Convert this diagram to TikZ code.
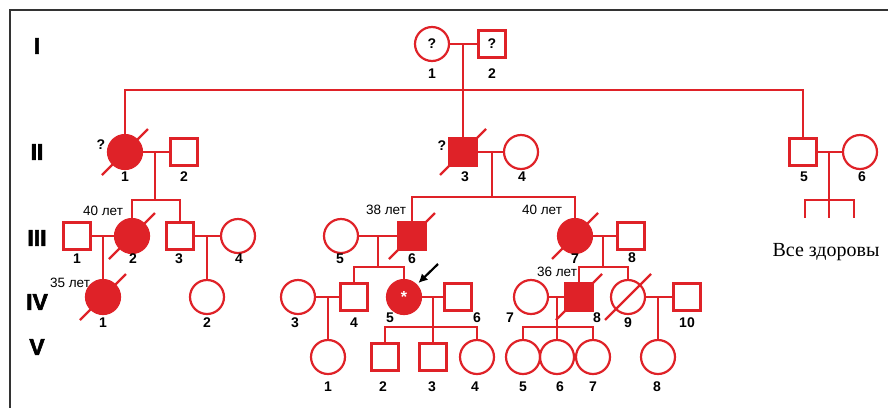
\documentclass[tikz,border=0pt]{standalone}
\usepackage{fontspec}
\setmainfont{Liberation Sans}
\newfontfamily\notefont{Liberation Serif}
\newfontfamily\heavyfont{Liberation Sans}[BoldFeatures={FakeBold=2.5}]
\usetikzlibrary{arrows.meta}
\definecolor{pedred}{HTML}{DF2228}
\definecolor{framegray}{HTML}{333333}

\begin{document}
\begin{tikzpicture}[x=1pt,y=-1pt,
fem/.style={circle,draw=pedred,line width=2.2pt,minimum size=34pt,inner sep=0pt,
font=\bfseries\fontsize{14}{14}\selectfont},
mal/.style={rectangle,draw=pedred,line width=2.2pt,minimum size=27pt,inner sep=0pt,
font=\bfseries\fontsize{14}{14}\selectfont},
aff/.style={fill=pedred},
ln/.style={draw=pedred,line width=2.2pt},
dead/.style={draw=pedred,line width=2.2pt},
num/.style={font=\bfseries\fontsize{14}{14}\selectfont,inner sep=0pt},
age/.style={font=\fontsize{13.5}{13.5}\selectfont,inner sep=0pt},
gen/.style={font=\heavyfont\bfseries\fontsize{23}{23}\selectfont,inner sep=0pt},
pointer/.style={-{Latex[length=9pt,width=9pt]},line width=2.2pt,shorten >=2pt}
]
\useasboundingbox (0,0) rectangle (888,408);
\draw[framegray,line width=1.2pt] (888,10) -- (10,10) -- (10,408);

\node[gen] (g1) at (37,46) {I};
\node[gen] (g2) at (37,152) {II};
\node[gen] (g3) at (37,238) {III};
\node[gen] (g4) at (37,302) {IV};
\node[gen] (g5) at (37,347) {V};

\node[fem] (i1) at (432,44) {?};
\node[mal] (i2) at (492,44) {?};
\coordinate (m1) at (463,44);
\coordinate (sib1) at (463,90);
\node[num] (n11) at (432,74) {1};
\node[num] (n12) at (492,74) {2};

\node[fem,aff] (ii1) at (125,152) {};
\node[mal] (ii2) at (184,152) {};
\node[mal,aff] (ii3) at (463,152) {};
\node[fem] (ii4) at (521,152) {};
\node[mal] (ii5) at (803,152) {};
\node[fem] (ii6) at (860,152) {};
\node[num] (q21) at (101,145) {?};
\node[num] (q23) at (442,146) {?};
\coordinate (m21) at (155,152);
\coordinate (sib21) at (155,200);
\coordinate (m22) at (492,152);
\coordinate (sib22) at (492,197);
\coordinate (m23) at (829,152);
\coordinate (sib23) at (829,200);
\coordinate (k1) at (805,218);
\coordinate (k2) at (829,218);
\coordinate (k3) at (854,218);
\node[num] (n21) at (125,177) {1};
\node[num] (n22) at (184,177) {2};
\node[num] (n23) at (465,177) {3};
\node[num] (n24) at (522,177) {4};
\node[num] (n25) at (804,177) {5};
\node[num] (n26) at (862,177) {6};
\node[font=\notefont\fontsize{20}{20}\selectfont,inner sep=0pt] (allwell) at (826,252) {Все здоровы};

\node[mal] (iii1) at (77,236) {};
\node[fem,aff] (iii2) at (132,236) {};
\node[mal] (iii3) at (180,236) {};
\node[fem] (iii4) at (238,236) {};
\node[fem] (iii5) at (341,236) {};
\node[mal,aff] (iii6) at (412,236) {};
\node[fem,aff] (iii7) at (575,236) {};
\node[mal] (iii8) at (631,236) {};
\coordinate (m31) at (103,236);
\coordinate (m32) at (207,236);
\coordinate (m33) at (378,236);
\coordinate (sib33) at (378,267);
\coordinate (m34) at (603,236);
\coordinate (sib34) at (603,267);
\node[age] (a32) at (103,211) {40 лет};
\node[age] (a36) at (386,210) {38 лет};
\node[age] (a37) at (542,210) {40 лет};
\node[num] (n31) at (77,259) {1};
\node[num] (n32) at (133,259) {2};
\node[num] (n33) at (179,259) {3};
\node[num] (n34) at (239,259) {4};
\node[num] (n35) at (340,259) {5};
\node[num] (n36) at (412,259) {6};
\node[num] (n37) at (575,259) {7};
\node[num] (n38) at (632,258) {8};

\node[fem,aff] (iv1) at (103,297) {};
\node[fem] (iv2) at (207,297) {};
\node[fem] (iv3) at (298,297) {};
\node[mal] (iv4) at (354,297) {};
\node[fem,aff,text=white,font=\bfseries\fontsize{16}{16}\selectfont] (iv5) at (404,297) {\raisebox{-3.5pt}{*}};
\node[mal] (iv6) at (458,297) {};
\node[fem] (iv7) at (531,297) {};
\node[mal,aff] (iv8) at (579,297) {};
\node[fem] (iv9) at (628,297) {};
\node[mal] (iv10) at (687,297) {};
\coordinate (m41) at (328,297);
\coordinate (m42) at (433,297);
\coordinate (sib42) at (433,327);
\coordinate (m43) at (557,297);
\coordinate (sib43) at (557,327);
\coordinate (m44) at (658,297);
\coordinate (ar) at (438,264);
\node[age] (a41) at (70,283) {35 лет};
\node[age] (a48) at (557,272) {36 лет};
\node[num] (n41) at (103,323) {1};
\node[num] (n42) at (207,323) {2};
\node[num] (n43) at (295,323) {3};
\node[num] (n44) at (354,323) {4};
\node[num] (n45) at (390,318) {5};
\node[num] (n46) at (477,318) {6};
\node[num] (n47) at (510,318) {7};
\node[num] (n48) at (597,318) {8};
\node[num] (n49) at (628,323) {9};
\node[num] (n410) at (687,323) {10};

\node[fem] (v1) at (328,357) {};
\node[mal] (v2) at (385,357) {};
\node[mal] (v3) at (433,357) {};
\node[fem] (v4) at (477,357) {};
\node[fem] (v5) at (523,357) {};
\node[fem] (v6) at (557,357) {};
\node[fem] (v7) at (593,357) {};
\node[fem] (v8) at (658,357) {};
\node[num] (n51) at (328,387) {1};
\node[num] (n52) at (383,387) {2};
\node[num] (n53) at (432,387) {3};
\node[num] (n54) at (475,387) {4};
\node[num] (n55) at (523,387) {5};
\node[num] (n56) at (560,387) {6};
\node[num] (n57) at (593,387) {7};
\node[num] (n58) at (657,387) {8};

\draw[ln] (i1) -- (i2);
\draw[ln] (m1) -- (ii3);
\draw[ln] (ii1.north) -- (ii1.north |- sib1) -- (ii5.north |- sib1) -- (ii5.north);
\draw[ln] (ii1) -- (ii2);
\draw[ln] (ii3) -- (ii4);
\draw[ln] (ii5) -- (ii6);
\draw[ln] (m21) -- (sib21);
\draw[ln] (iii2.north) -- (iii2.north |- sib21) -- (iii3.north |- sib21) -- (iii3.north);
\draw[ln] (m22) -- (sib22);
\draw[ln] (iii6.north) -- (iii6.north |- sib22) -- (iii7.north |- sib22) -- (iii7.north);
\draw[ln] (m23) -- (k2);
\draw[ln] (k1) -- (k1 |- sib23) -- (k3 |- sib23) -- (k3);

\draw[ln] (iii1) -- (iii2);
\draw[ln] (iii3) -- (iii4);
\draw[ln] (iii5) -- (iii6);
\draw[ln] (iii7) -- (iii8);
\draw[ln] (m31) -- (iv1);
\draw[ln] (m32) -- (iv2);
\draw[ln] (m33) -- (sib33);
\draw[ln] (iv4.north) -- (iv4.north |- sib33) -- (iv5.north |- sib33) -- (iv5.north);
\draw[ln] (m34) -- (sib34);
\draw[ln] (iv8.north) -- (iv8.north |- sib34) -- (iv9.north |- sib34) -- (iv9.north);

\draw[ln] (iv3) -- (iv4);
\draw[ln] (iv5) -- (iv6);
\draw[ln] (iv7) -- (iv8);
\draw[ln] (iv9) -- (iv10);
\draw[ln] (m41) -- (v1);
\draw[ln] (m42) -- (sib42);
\draw[ln] (v2.north) -- (v2.north |- sib42) -- (v4.north |- sib42) -- (v4.north);
\draw[ln] (sib42) -- (v3);
\draw[ln] (m43) -- (sib43);
\draw[ln] (v5.north) -- (v5.north |- sib43) -- (v7.north |- sib43) -- (v7.north);
\draw[ln] (sib43) -- (v6);
\draw[ln] (m44) -- (v8);

\foreach \p in {ii1,ii3,iii2,iii6,iii7,iv1,iv8,iv9}
\draw[dead] ([shift={(-23,23)}]\p.center) -- ([shift={(23,-23)}]\p.center);

\draw[pointer] (ar) -- (iv5);
\end{tikzpicture}
\end{document}
